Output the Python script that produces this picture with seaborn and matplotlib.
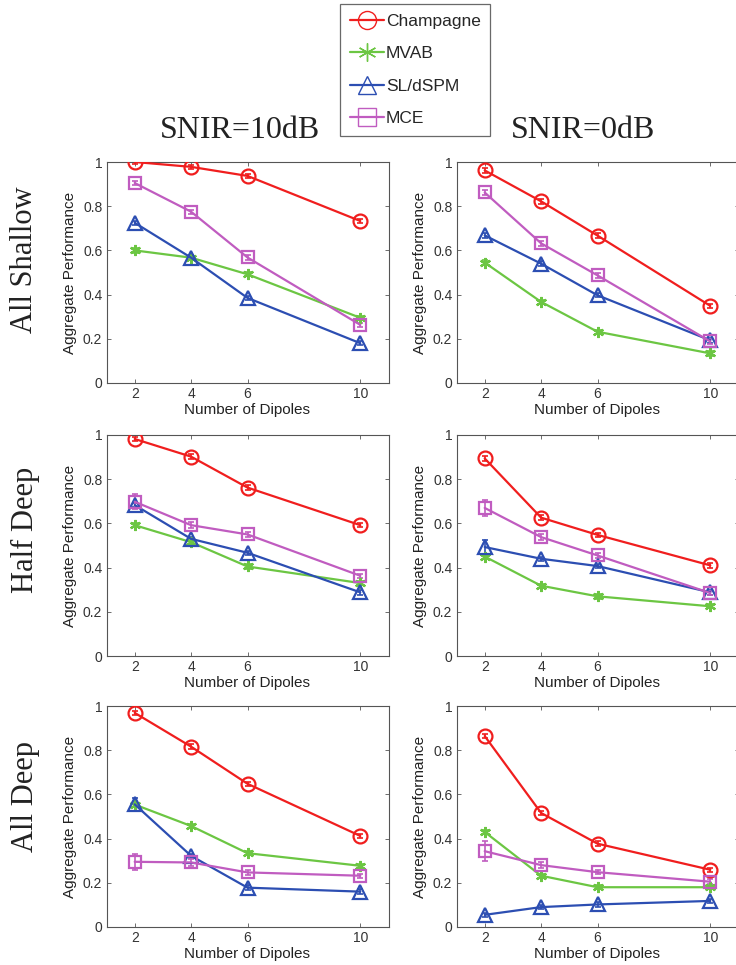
import numpy as np
import pandas as pd
import matplotlib
matplotlib.use("Agg")
import matplotlib.pyplot as plt
from matplotlib.lines import Line2D
import seaborn as sns

# ---------------- data ----------------
dipoles = [2, 4, 6, 10]
methods = ["Champagne", "MVAB", "SL/dSPM", "MCE"]
rows = ["All Shallow", "Half Deep", "All Deep"]
cols = ["SNIR=10dB", "SNIR=0dB"]

# All Shallow
champ_shallow_10 = [1.00, 0.978, 0.937, 0.733]
mvab_shallow_10 = [0.600, 0.567, 0.492, 0.295]
sl_shallow_10 = [0.725, 0.567, 0.385, 0.180]
mce_shallow_10 = [0.905, 0.775, 0.568, 0.263]

champ_shallow_0 = [0.962, 0.822, 0.667, 0.349]
mvab_shallow_0 = [0.545, 0.367, 0.232, 0.134]
sl_shallow_0 = [0.668, 0.540, 0.397, 0.193]
mce_shallow_0 = [0.862, 0.632, 0.487, 0.188]

# Half Deep
champ_half_10 = [0.982, 0.902, 0.762, 0.592]
mvab_half_10 = [0.592, 0.515, 0.405, 0.330]
sl_half_10 = [0.683, 0.530, 0.467, 0.288]
mce_half_10 = [0.698, 0.592, 0.550, 0.363]

champ_half_0 = [0.894, 0.626, 0.548, 0.410]
mvab_half_0 = [0.450, 0.318, 0.270, 0.225]
sl_half_0 = [0.493, 0.440, 0.407, 0.288]
mce_half_0 = [0.670, 0.538, 0.455, 0.285]

# All Deep
champ_deep_10 = [0.969, 0.816, 0.648, 0.412]
mvab_deep_10 = [0.554, 0.457, 0.334, 0.277]
sl_deep_10 = [0.555, 0.322, 0.178, 0.160]
mce_deep_10 = [0.295, 0.292, 0.247, 0.232]

champ_deep_0 = [0.864, 0.516, 0.377, 0.259]
mvab_deep_0 = [0.430, 0.232, 0.180, 0.180]
sl_deep_0 = [0.055, 0.090, 0.102, 0.118]
mce_deep_0 = [0.343, 0.280, 0.248, 0.205]

# error bar half-widths (mostly tiny)
err_small = [0.01, 0.01, 0.01, 0.01]
mce_err_half = [0.035, 0.015, 0.01, 0.01]
mce_err_deep_10 = [0.035, 0.015, 0.01, 0.01]
mce_err_deep_0 = [0.045, 0.015, 0.01, 0.01]
sl_err_deep_10 = [0.03, 0.01, 0.01, 0.01]
sl_err_half_0 = [0.03, 0.01, 0.01, 0.01]

panels = {
    (0, 0): [champ_shallow_10, mvab_shallow_10, sl_shallow_10, mce_shallow_10],
    (0, 1): [champ_shallow_0, mvab_shallow_0, sl_shallow_0, mce_shallow_0],
    (1, 0): [champ_half_10, mvab_half_10, sl_half_10, mce_half_10],
    (1, 1): [champ_half_0, mvab_half_0, sl_half_0, mce_half_0],
    (2, 0): [champ_deep_10, mvab_deep_10, sl_deep_10, mce_deep_10],
    (2, 1): [champ_deep_0, mvab_deep_0, sl_deep_0, mce_deep_0],
}
errors = {
    (0, 0): [err_small, err_small, err_small, err_small],
    (0, 1): [err_small, err_small, err_small, err_small],
    (1, 0): [err_small, err_small, err_small, mce_err_half],
    (1, 1): [err_small, err_small, sl_err_half_0, mce_err_half],
    (2, 0): [err_small, err_small, sl_err_deep_10, mce_err_deep_10],
    (2, 1): [err_small, err_small, err_small, mce_err_deep_0],
}

colors = {"Champagne": "#f01e1e", "MVAB": "#6cc643",
          "SL/dSPM": "#2c4eb2", "MCE": "#c05cc0"}
markers = {"Champagne": "o", "MVAB": (6, 2, 0),
           "SL/dSPM": "^", "MCE": "s"}
msizes = {"Champagne": 10, "MVAB": 8, "SL/dSPM": 10, "MCE": 8}

# ---------------- style ----------------
sns.set_theme(style="white")
plt.rcParams["font.family"] = ["Liberation Sans", "DejaVu Sans"]
plt.rcParams["axes.edgecolor"] = "#555555"
plt.rcParams["axes.linewidth"] = 0.8

W, H = 736, 965
fig = plt.figure(figsize=(W / 100, H / 100), dpi=100)

col_left = [106.5, 456.5]
axw = 282
row_top = [162, 435, 706]
axh = 221

for (r, c), series in panels.items():
    ax = fig.add_axes([col_left[c] / W, 1 - (row_top[r] + axh) / H, axw / W, axh / H])
    for m, vals, err in zip(methods, series, errors[(r, c)]):
        df = pd.DataFrame({"Number of Dipoles": dipoles, "Aggregate Performance": vals})
        ax.errorbar(dipoles, vals, yerr=err, fmt="none", ecolor=colors[m],
                    elinewidth=1.2, capsize=2, capthick=1.2, zorder=2)
        sns.lineplot(data=df, x="Number of Dipoles", y="Aggregate Performance",
                     ax=ax, color=colors[m], marker=markers[m],
                     markersize=msizes[m], markerfacecolor="none",
                     markeredgecolor=colors[m], markeredgewidth=1.6,
                     linewidth=1.6, legend=False, zorder=3)
    ax.set_xlim(1, 11)
    ax.set_ylim(0, 1)
    ax.set_xticks(dipoles)
    ax.set_xticklabels([str(d) for d in dipoles])
    yt = [0, 0.2, 0.4, 0.6, 0.8, 1]
    ax.set_yticks(yt)
    ax.set_yticklabels(["0", "0.2", "0.4", "0.6", "0.8", "1"])
    ax.tick_params(direction="in", length=3, width=0.6, colors="#555555",
                   labelcolor="#333333", labelsize=10, top=True, right=True,
                   bottom=True, left=True, pad=3)
    ax.set_xlabel("Number of Dipoles", fontsize=11, color="#222222", labelpad=1)
    ax.set_ylabel("Aggregate Performance", fontsize=11, color="#222222", labelpad=4)
    for s in ax.spines.values():
        s.set_visible(True)

# column titles
serif = ["Liberation Serif", "DejaVu Serif"]
fig.text(240 / W, 1 - 130 / H, cols[0], ha="center", va="center",
         fontsize=23, family=serif, color="#222222")
fig.text(583 / W, 1 - 130 / H, cols[1], ha="center", va="center",
         fontsize=23, family=serif, color="#222222")
# row labels
for lbl, yc in zip(rows, [260, 530, 797]):
    fig.text(25 / W, 1 - yc / H, lbl, ha="center", va="center", rotation=90,
             fontsize=22, family=serif, color="#222222")

# legend
handles = [Line2D([0], [0], color=colors[m], marker=markers[m], markersize=13,
                  markerfacecolor="none", markeredgecolor=colors[m],
                  markeredgewidth=1.0, linewidth=1.6) for m in methods]
leg = fig.legend(handles, methods, loc="upper left",
                 bbox_to_anchor=(340 / W, 1 - 4 / H), fontsize=12.5,
                 frameon=True, fancybox=False, edgecolor="#444444",
                 handlelength=2.0, handletextpad=0.1, labelspacing=1.0,
                 borderpad=0.55, borderaxespad=0)
leg.get_frame().set_linewidth(0.9)

fig.savefig("out.png", dpi=100, facecolor="white")
